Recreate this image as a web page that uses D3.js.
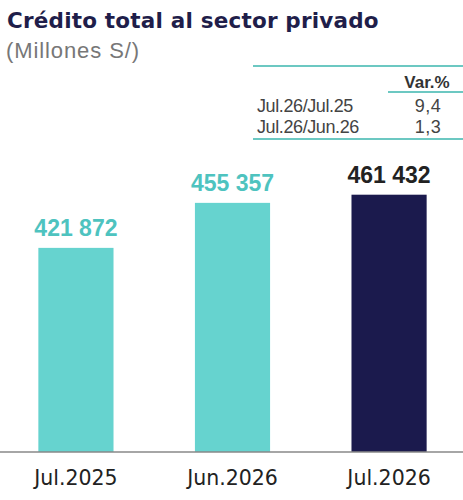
<!DOCTYPE html>
<html><head><meta charset="utf-8">
<script src="https://cdn.jsdelivr.net/npm/d3@7"></script>
<style>body{margin:0;background:#fff}svg{display:block}</style>
</head><body>
<script>
const categories = ["Jul.2025", "Jun.2026", "Jul.2026"];
const values = [421872, 455357, 461432];
const valueLabels = ["421 872", "455 357", "461 432"];
const tableRows = ["Jul.26/Jul.25", "Jul.26/Jun.26"];
const tableValues = ["9,4", "1,3"];
const tableHeader = "Var.%";

const W = 463, H = 500;
const teal = "#66D3CF", navy = "#1B1A4D";
const barColors = [teal, teal, navy];
const labelColors = ["#4EC3BF", "#4EC3BF", "#222222"];

const svg = d3.select("body").append("svg").attr("width", W).attr("height", H);

svg.append("text").attr("x", 7).attr("y", 28)
  .attr("font-family", "DejaVu Sans").attr("font-weight", "bold").attr("font-size", 21.5)
  .attr("letter-spacing", 0.2)
  .attr("fill", "#1F1E4A").text("Crédito total al sector privado");
svg.append("text").attr("x", 6).attr("y", 58)
  .attr("font-family", "Liberation Sans").attr("font-size", 22).attr("letter-spacing", 0.9)
  .attr("fill", "#777").text("(Millones S/)");

// table
const tg = svg.append("g");
tg.append("line").attr("x1", 253).attr("x2", 463).attr("y1", 66).attr("y2", 66).attr("stroke", "#6CC8C2").attr("stroke-width", 2);
tg.append("line").attr("x1", 388).attr("x2", 463).attr("y1", 92).attr("y2", 92).attr("stroke", "#6CC8C2").attr("stroke-width", 2);
tg.append("line").attr("x1", 253).attr("x2", 463).attr("y1", 139).attr("y2", 139).attr("stroke", "#6CC8C2").attr("stroke-width", 2);
tg.append("text").attr("x", 427).attr("y", 88).attr("text-anchor", "middle")
  .attr("font-family", "Liberation Sans").attr("font-weight", "bold").attr("font-size", 17)
  .attr("fill", "#333").text(tableHeader);
const rowY = d3.scalePoint().domain(tableRows).range([112, 133]);
tg.selectAll("text.rl").data(tableRows).join("text").attr("class", "rl")
  .attr("x", 257).attr("y", d => rowY(d))
  .attr("font-family", "Liberation Sans").attr("font-size", 18).attr("fill", "#444")
  .attr("letter-spacing", -0.4).text(d => d);
tg.selectAll("text.rv").data(tableValues).join("text").attr("class", "rv")
  .attr("x", 428).attr("y", (d, i) => rowY(tableRows[i])).attr("text-anchor", "middle")
  .attr("font-family", "Liberation Sans").attr("font-size", 18).attr("fill", "#444")
  .attr("letter-spacing", 0.5).text(d => d);

// bars
const x = d3.scaleBand().domain(categories).range([0, 465]).paddingInner(0.52).paddingOuter(0.245);
const y = d3.scaleLinear().domain([270000, 600000]).range([452, 452 - 330000 / 744]);

svg.selectAll("rect.bar").data(values).join("rect").attr("class", "bar")
  .attr("x", (d, i) => x(categories[i])).attr("width", x.bandwidth())
  .attr("y", d => y(d)).attr("height", d => y(270000) - y(d))
  .attr("fill", (d, i) => barColors[i]);

svg.selectAll("text.vl").data(values).join("text").attr("class", "vl")
  .attr("x", (d, i) => x(categories[i]) + x.bandwidth() / 2)
  .attr("y", d => y(d) - 12).attr("text-anchor", "middle")
  .attr("font-family", "Liberation Sans").attr("font-weight", "bold").attr("font-size", 23)
  .attr("fill", (d, i) => labelColors[i]).text((d, i) => valueLabels[i]);

const axis = svg.append("g").attr("transform", "translate(0,452)")
  .call(d3.axisBottom(x).tickSize(0).tickPadding(18));
axis.select(".domain").remove();
axis.append("line").attr("x1", 0).attr("x2", W).attr("stroke", "#888").attr("stroke-width", 1.5);
axis.selectAll(".tick text").attr("font-family", "DejaVu Sans").attr("font-size", 20.5).attr("fill", "#222");
</script>
</body></html>
